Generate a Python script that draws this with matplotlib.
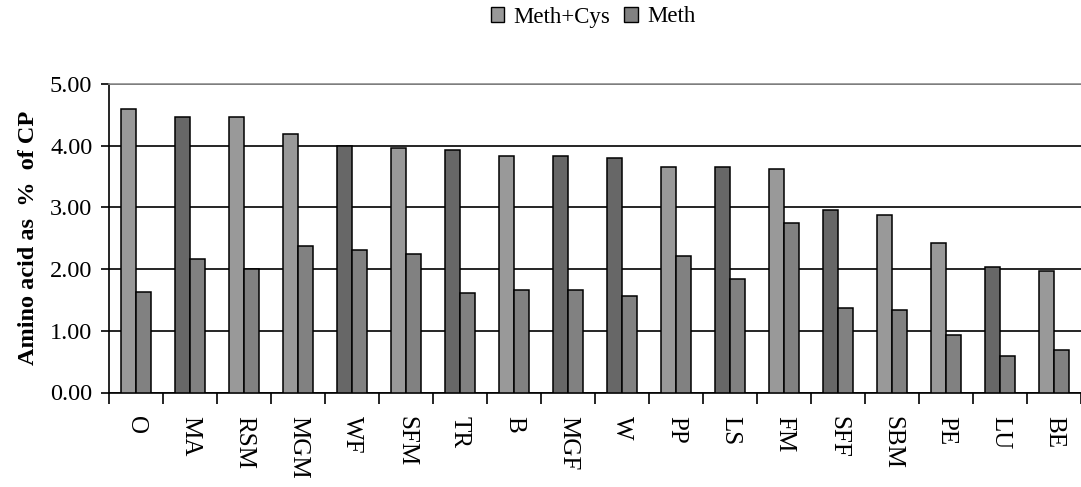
import matplotlib
matplotlib.use("Agg")
import matplotlib.pyplot as plt
from matplotlib.patches import Patch
import numpy as np

categories = ["O", "MA", "RSM", "MGM", "WF", "SFM", "TR", "B", "MGF", "W",
              "PP", "LS", "FM", "SFF", "SBM", "PE", "LU", "BE"]
meth_cys = [4.59, 4.46, 4.46, 4.19, 4.00, 3.97, 3.93, 3.84, 3.84, 3.80,
            3.65, 3.65, 3.62, 2.96, 2.87, 2.43, 2.03, 1.97]
meth = [1.63, 2.16, 2.00, 2.38, 2.31, 2.24, 1.62, 1.66, 1.66, 1.57,
        2.22, 1.84, 2.75, 1.37, 1.34, 0.93, 0.59, 0.69]
# shade of the Meth+Cys bar as printed (alternating light / dark)
mc_shade = ["L", "D", "L", "L", "D", "L", "D", "L", "D", "D",
            "L", "D", "L", "D", "L", "L", "D", "L"]

LIGHT = "#999999"
DARK = "#676767"
METH = "#818181"

plt.rcParams["font.family"] = ["Liberation Serif", "DejaVu Serif"]

fig = plt.figure(figsize=(10.81, 4.87), dpi=100)
ax = fig.add_axes([109 / 1081, 1 - 392.5 / 487, 972 / 1081, (392.5 - 84) / 487])

x = np.arange(len(categories))
w = 0.28
colors = [LIGHT if s == "L" else DARK for s in mc_shade]
ax.bar(x - w / 2, meth_cys, width=w, color=colors, edgecolor="black",
       linewidth=1.1, zorder=3)
ax.bar(x + w / 2, meth, width=w, color=METH, edgecolor="black",
       linewidth=1.1, zorder=3)

ax.set_xlim(-0.5, len(categories) - 0.5)
ax.set_ylim(0, 5)
ax.set_yticks(np.arange(0, 5.01, 1.0))
ax.set_yticklabels([f"{v:.2f}" for v in np.arange(0, 5.01, 1.0)], fontsize=17.5)
ax.yaxis.grid(True, color="black", linewidth=1.2, zorder=1)
ax.set_axisbelow(True)

ax.set_xticks(x)
ax.set_xticklabels(categories, rotation=-90, fontsize=18, va="top")
ax.tick_params(axis="x", which="major", length=0, pad=17)
ax.set_xticks(np.arange(-0.5, len(categories), 1.0), minor=True)
ax.tick_params(axis="x", which="minor", length=8, width=1.2, direction="out")
ax.tick_params(axis="y", length=6, width=1.2, direction="out", pad=6)

ax.spines["right"].set_visible(False)
ax.spines["top"].set_color("#909090")
ax.spines["top"].set_linewidth(1.2)
ax.spines["left"].set_linewidth(1.2)
ax.spines["bottom"].set_linewidth(1.2)

ax.set_ylabel("Amino acid as  %  of CP", fontsize=17.5, fontweight="bold",
              labelpad=8)

handles = [Patch(facecolor=LIGHT, edgecolor="black", linewidth=1.0),
           Patch(facecolor=METH, edgecolor="black", linewidth=1.0)]
fig.legend(handles, ["Meth+Cys", "Meth"], loc="center",
           bbox_to_anchor=(593 / 1081, 1 - 17 / 487), ncol=2, frameon=False,
           fontsize=16.5, handlelength=0.6, handleheight=0.6, handletextpad=0.4,
           columnspacing=0.6)

fig.savefig("out.png", dpi=100)
